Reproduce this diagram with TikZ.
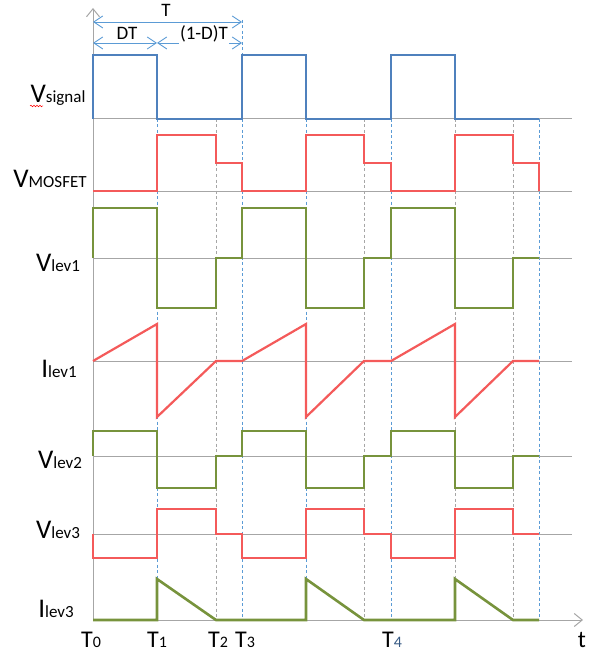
\documentclass[tikz,border=0pt]{standalone}
\usepackage{fontspec}
\setmainfont{Carlito}
\usetikzlibrary{arrows.meta,decorations.pathmorphing}

\definecolor{sigblue}{RGB}{79,129,189}
\definecolor{wavered}{RGB}{244,90,90}
\definecolor{wavegreen}{RGB}{119,147,60}
\definecolor{axisgray}{RGB}{166,166,166}
\definecolor{dashblue}{RGB}{91,155,213}

\newcommand{\wavelab}[2]{{\fontsize{27}{30}\selectfont #1}{\fontsize{17}{20}\selectfont #2}}
\newcommand{\timelab}[2]{{\fontsize{24}{28}\selectfont #1}{\fontsize{16}{19}\selectfont #2}}

\tikzset{
  wave/.style={line width=2.6pt, line join=miter},
  zeroline/.style={axisgray, line width=1pt},
  axisline/.style={axisgray, line width=1pt, -{Straight Barb[length=8pt,width=13pt]}},
  guideblue/.style={dashblue, line width=0.8pt, dash pattern=on 3pt off 2.5pt},
  guidegray/.style={axisgray, line width=0.8pt, dash pattern=on 3pt off 2.5pt},
  dimarrow/.style={dashblue, line width=0.9pt, {Straight Barb[length=9pt,width=12pt]}-{Straight Barb[length=9pt,width=12pt]}},
  lab/.style={inner sep=0pt, anchor=base}
}

\begin{document}
\begin{tikzpicture}[x=1pt, y=-1pt]
    \useasboundingbox (0,0) rectangle (596,655);

    % First, the dashed guide lines
        \draw[guideblue] (157,119) -- (157,620);
        \draw[guidegray] (216,119) -- (216,620);
        \draw[guideblue] (242,20) -- (242,620);
        \draw[guideblue] (306,119) -- (306,620);
        \draw[guidegray] (364,119) -- (364,620);
        \draw[guideblue] (391,119) -- (391,620);
        \draw[guidegray] (455,119) -- (455,620);
        \draw[guidegray] (513,119) -- (513,620);
        \draw[guideblue] (539,119) -- (539,620);

    % zero lines of each waveform
        \draw[zeroline] (93,119) -- (572,119);
        \draw[zeroline] (93,191) -- (572,191);
        \draw[zeroline] (93,258) -- (572,258);
        \draw[zeroline] (93,361) -- (572,361);
        \draw[zeroline] (93,456) -- (572,456);
        \draw[zeroline] (93,534) -- (572,534);

    % axes
        \coordinate (origin) at (93,620);
        \coordinate (ytip) at (93,8);
        \coordinate (ttip) at (583,620);
        \draw[axisline] (origin) -- (ytip);
        \draw[axisline] (origin) -- (ttip);

    % period and duty cycle
        \coordinate (p0) at (93,22);
        \coordinate (p3) at (242,22);
        \coordinate (d0) at (93,43);
        \coordinate (d1) at (157,43);
        \coordinate (d3) at (242,43);
        \draw[dimarrow] (p0) -- (p3);
        \draw[dimarrow] (d0) -- (d1);
        \draw[dimarrow] (d1) -- (d3);
        \node[lab] (per) at (166,17) {\fontsize{19}{22}\selectfont T};
        \node[lab] (duty) at (127,40) {\fontsize{19}{22}\selectfont DT};
        \node[lab, fill=white, inner sep=1pt] (rest) at (204,40) {\fontsize{19}{22}\selectfont (1-D)T};

    % Now the waveforms
        \draw[wave, sigblue] (93,119) -- (93,55) -- (157,55) -- (157,119) -- (242,119) -- (242,55) -- (306,55) -- (306,119)
            -- (391,119) -- (391,55) -- (455,55) -- (455,119) -- (539,119);
        \draw[wave, wavered] (93,191) -- (157,191) -- (157,135) -- (216,135) -- (216,163) -- (242,163) -- (242,191)
            -- (306,191) -- (306,135) -- (364,135) -- (364,163) -- (391,163) -- (391,191)
            -- (455,191) -- (455,135) -- (513,135) -- (513,163) -- (539,163) -- (539,191);
        \draw[wave, wavegreen] (93,258) -- (93,208) -- (157,208) -- (157,308) -- (216,308) -- (216,258) -- (242,258)
            -- (242,208) -- (306,208) -- (306,308) -- (364,308) -- (364,258) -- (391,258)
            -- (391,208) -- (455,208) -- (455,308) -- (513,308) -- (513,258) -- (539,258);
        \draw[wave, wavered, line width=2.2pt] (93,361) -- (157,324) -- (157,417) -- (216,361) -- (242,361)
            -- (306,324) -- (306,417) -- (364,361) -- (391,361)
            -- (455,324) -- (455,417) -- (513,361) -- (539,361);
        \draw[wave, wavegreen] (93,456) -- (93,431) -- (157,431) -- (157,488) -- (216,488) -- (216,456) -- (242,456)
            -- (242,431) -- (306,431) -- (306,488) -- (364,488) -- (364,456) -- (391,456)
            -- (391,431) -- (455,431) -- (455,488) -- (513,488) -- (513,456) -- (539,456);
        \draw[wave, wavered] (93,534) -- (93,558) -- (157,558) -- (157,509) -- (216,509) -- (216,534) -- (242,534)
            -- (242,558) -- (306,558) -- (306,509) -- (364,509) -- (364,534) -- (391,534)
            -- (391,558) -- (455,558) -- (455,509) -- (513,509) -- (513,534) -- (539,534);
        \draw[wave, wavegreen] (93,620) -- (157,620) -- (157,579) -- (216,620) -- (306,620) -- (306,579) -- (364,620)
            -- (455,620) -- (455,579) -- (513,620) -- (539,620);

    % labels on the left
        \node[lab] (vsig) at (58,103) {\wavelab{V}{signal}};
        \draw[red, line width=0.5pt, decorate, decoration={snake, amplitude=0.8pt, segment length=3pt}] (30,106) -- (43,106);
        \node[lab] (vmos) at (50,187) {\wavelab{V}{MOSFET}};
        \node[lab] (vlevone) at (58,271) {\wavelab{V}{lev1}};
        \node[lab] (ilevone) at (59,377) {\wavelab{I}{lev1}};
        \node[lab] (vlevtwo) at (60,468) {\wavelab{V}{lev2}};
        \node[lab] (vlevthree) at (58,538) {\wavelab{V}{lev3}};
        \node[lab] (ilevthree) at (56,617) {\wavelab{I}{lev3}};

    % time instants
        \node[lab] (tzero) at (91,647) {\timelab{T}{0}};
        \node[lab] (tone) at (157,647) {\timelab{T}{1}};
        \node[lab] (ttwo) at (218,647) {\timelab{T}{2}};
        \node[lab] (tthree) at (245,647) {\timelab{T}{3}};
        \node[lab] (tfour) at (392,647) {\timelab{T}{\color{sigblue!70!black}4}};
        \node[lab] (tlab) at (582,647) {\fontsize{24}{28}\selectfont t};
\end{tikzpicture}
\end{document}
